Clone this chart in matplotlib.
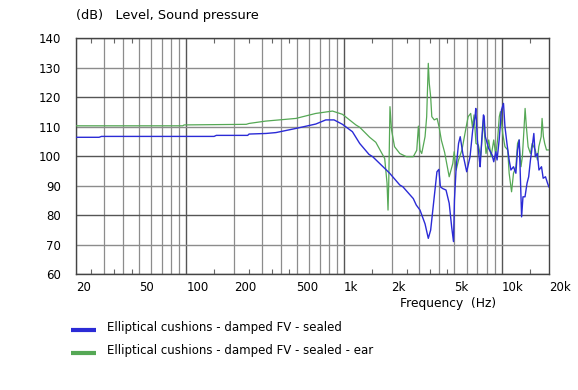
import matplotlib
matplotlib.use("Agg")
import matplotlib.pyplot as plt
from matplotlib.lines import Line2D
from matplotlib.ticker import FixedLocator, NullFormatter

# frequency response
freq_blue = [20, 28, 29, 150, 155, 245, 250, 320, 370, 495, 662, 766, 865, 977, 1130,
             1257, 1439, 1520, 1855, 1946, 2257, 2360, 2747, 2870, 3030, 3262, 3420, 3540,
             3730, 3880, 3990, 4080, 4220, 4430, 4640, 4810, 4940, 5010, 5140, 5320, 5450,
             5660, 5990, 6290, 6540, 6770, 6840, 7000, 7210, 7290, 7460, 7650, 7730, 7860,
             8260, 8680, 8890, 9160, 9330, 9620, 9950, 10250, 10470, 10780, 11130, 11420,
             11860, 12280, 12580, 12900, 13090, 13350, 13620, 14030, 14450, 14800, 15190,
             15490, 15960, 16300, 16800, 17200, 17850, 18290, 18920, 19500, 19870, 20000]
db_blue = [106.4, 106.4, 106.7, 106.7, 107.05, 107.05, 107.5, 107.7, 108.0, 109.4, 110.9,
           112.3, 112.3, 110.8, 108.3, 104.3, 100.6, 99.8, 95.3, 94.2, 90.2, 89.6, 85.6,
           83.4, 81.7, 77.0, 72.1, 74.9, 86.2, 94.7, 95.5, 89.6, 89.0, 88.5, 84.0, 76.0,
           71.0, 85.1, 96.4, 104.3, 106.6, 100.9, 94.7, 99.8, 108.9, 113.4, 116.2, 105.5,
           98.7, 96.4, 105.5, 114.0, 113.4, 106.6, 102.6, 100.4, 98.1, 101.5, 98.7, 105.5,
           115.7, 117.9, 110.0, 104.3, 98.7, 95.3, 96.4, 94.2, 102.1, 105.5, 94.2, 79.4,
           86.2, 86.2, 90.8, 93.0, 98.7, 102.1, 107.7, 99.8, 100.9, 95.3, 96.4, 92.5, 93.0,
           90.8, 89.6, 89.4]

freq_green = [20, 95, 97, 240, 250, 319, 495, 662, 845, 977, 1188, 1257, 1454, 1590, 1683,
              1810, 1873, 1900, 1920, 1955, 2000, 2090, 2257, 2488, 2747, 2890, 2960, 3030,
              3107, 3262, 3340, 3420, 3470, 3540, 3600, 3730, 3890, 4000, 4140, 4340, 4640,
              4890, 4990, 5140, 5320, 5590, 5920, 6120, 6350, 6510, 6670, 6860, 7100, 7350,
              7650, 7940, 8260, 8550, 8890, 9150, 9400, 9640, 9800, 10130, 10470, 10900,
              11130, 11530, 11860, 12280, 12580, 12840, 13230, 13500, 13850, 14050, 14310,
              14680, 15190, 15580, 16300, 16820, 17160, 17760, 18000, 18350, 18700, 19200,
              20000]
db_green = [110.3, 110.3, 110.6, 110.8, 111.1, 111.9, 112.8, 114.5, 115.3, 114.2, 110.6,
            109.8, 106.4, 104.7, 102.3, 99.2, 90.8, 81.7, 90.8, 116.8, 108.9, 103.2, 100.9,
            99.8, 99.8, 102.0, 110.2, 102.0, 100.9, 106.6, 113.4, 131.5, 124.7, 120.2, 113.4,
            112.3, 112.8, 110.0, 105.4, 101.3, 93.0, 97.5, 101.5, 95.3, 98.7, 102.1, 109.4,
            113.4, 114.5, 110.0, 114.0, 104.3, 103.8, 99.8, 112.3, 100.9, 105.5, 99.8, 105.5,
            100.4, 105.5, 113.4, 115.1, 107.7, 103.2, 102.1, 94.2, 87.9, 94.2, 96.4, 104.3,
            105.5, 96.4, 99.8, 110.0, 116.2, 110.0, 103.2, 100.9, 104.3, 102.1, 98.7, 103.2,
            106.6, 112.8, 106.6, 104.3, 102.1, 102.1]

xtick_vals = [20, 50, 100, 200, 500, 1000, 2000, 5000, 10000, 20000]
xtick_labels = ["20", "50", "100", "200", "500", "1k", "2k", "5k", "10k", "20k"]
ytick_vals = [60, 70, 80, 90, 100, 110, 120, 130, 140]
series_names = ["Elliptical cushions - damped FV - sealed",
                "Elliptical cushions - damped FV - sealed - ear"]

blue = "#2b2bd6"
green = "#55a855"
fs = 8.5

fig = plt.figure(figsize=(5.78, 3.90), dpi=100)
ax = fig.add_axes([76 / 578, 1 - 274 / 390, 473.3 / 578, 235.7 / 390])

ax.set_xscale("log")
ax.set_xlim(20, 20000)
ax.set_ylim(60, 140)

# grid: light lines on every minor decade step, dark on decades / every 20 dB
light_x = [m * 10 ** d for d in (1, 2, 3) for m in range(2, 10) if 20 <= m * 10 ** d <= 20000]
for f in light_x:
    ax.axvline(f, color="#8c8c8c", lw=0.9, zorder=1)
for f in (100, 1000, 10000):
    ax.axvline(f, color="#555555", lw=1.0, zorder=1)
for v in ytick_vals:
    ax.axhline(v, color="#555555" if v % 20 == 0 else "#8c8c8c", lw=1.0, zorder=1)

ax.plot(freq_green, db_green, color=green, lw=0.9, zorder=3)
ax.plot(freq_blue, db_blue, color=blue, lw=1.0, zorder=4)

for s in ax.spines.values():
    s.set_color("#444444")
    s.set_linewidth(1.0)

ax.xaxis.set_major_locator(FixedLocator(xtick_vals))
ax.set_xticklabels(xtick_labels, fontsize=fs, ha="left")
ax.xaxis.set_minor_locator(FixedLocator([25, 35, 45, 150, 250, 350, 450,
                                         1500, 2500, 3500, 4500, 15000]))
ax.xaxis.set_minor_formatter(NullFormatter())
ax.tick_params(axis="x", which="major", length=0, pad=5)
ax.tick_params(axis="x", which="minor", direction="in", length=3.5, width=0.8,
               color="#666666", top=True, bottom=True)

ax.set_yticks(ytick_vals)
ax.set_yticklabels([str(v) for v in ytick_vals], fontsize=fs)
ax.tick_params(axis="y", length=0, pad=11)

fig.text(76 / 578, 1 - 16 / 390, "(dB)   Level, Sound pressure", fontsize=9.3,
         ha="left", va="center")
fig.text(400 / 578, 1 - 304 / 390, "Frequency  (Hz)", fontsize=8.8, ha="left", va="center")

# legend drawn by hand under the axes
for i, (name, col) in enumerate(zip(series_names, [blue, green])):
    yc = 1 - (329.5 + i * 23.5) / 390
    fig.add_artist(Line2D([71 / 578, 96 / 578], [yc, yc], color=col, lw=3,
                          transform=fig.transFigure, solid_capstyle="butt"))
    fig.text(107 / 578, yc + 2.5 / 390, name, fontsize=fs, ha="left", va="center")

plt.savefig("out.png", dpi=100)
